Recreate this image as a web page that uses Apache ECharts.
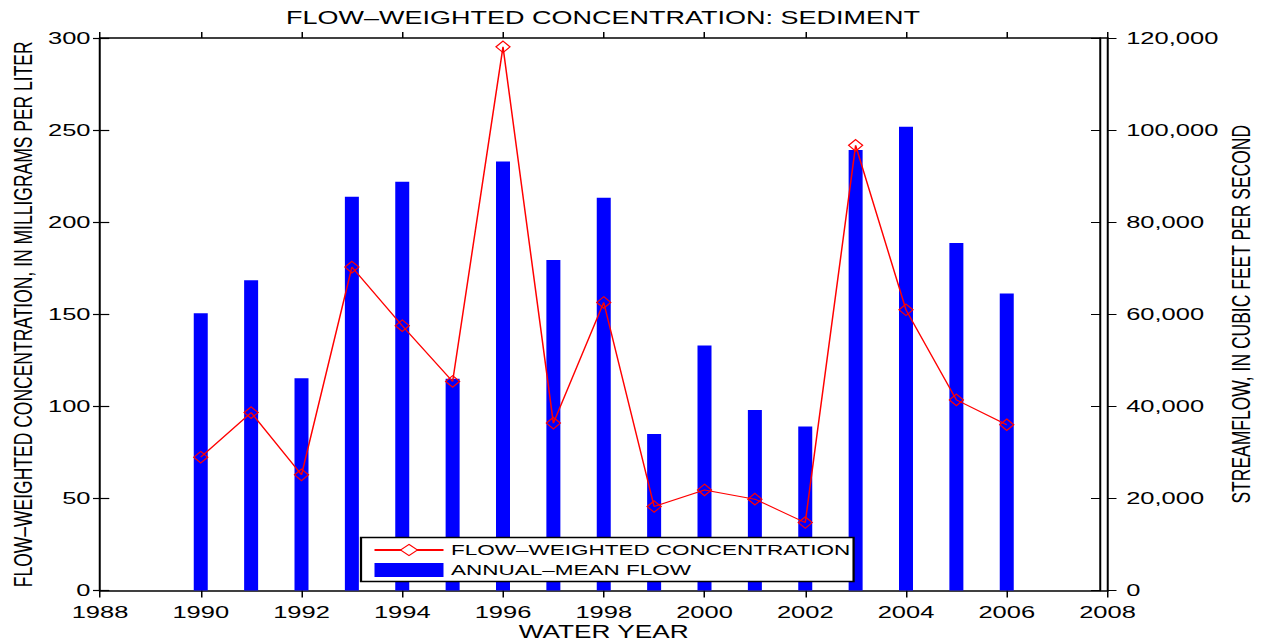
<!DOCTYPE html>
<html><head><meta charset="utf-8">
<script src="https://cdn.jsdelivr.net/npm/echarts@6/dist/echarts.min.js"></script>
<style>
html,body{margin:0;padding:0;background:#fff;overflow:hidden}
#wrap{width:1265px;height:643px;overflow:hidden;background:#fff}
#chart{width:843.3333px;height:643px;transform:scaleX(1.5);transform-origin:0 0}
</style></head>
<body><div id="wrap"><div id="chart"></div></div>
<script>
// ---- data ----
const titleText = 'FLOW\u2013WEIGHTED CONCENTRATION: SEDIMENT';
const lineName = 'FLOW\u2013WEIGHTED CONCENTRATION';
const barName = 'ANNUAL\u2013MEAN FLOW';
const xName = 'WATER YEAR';
const leftName = 'FLOW\u2013WEIGHTED CONCENTRATION, IN MILLIGRAMS PER LITER';
const rightName = 'STREAMFLOW, IN CUBIC FEET PER SECOND';
const years = [1990,1991,1992,1993,1994,1995,1996,1997,1998,1999,2000,2001,2002,2003,2004,2005,2006];
const flow  = [60200,67400,46100,85500,88800,46000,93200,71800,85300,34000,53200,39200,35600,95700,100700,75500,64500];
const conc  = [72.4,96.6,62.8,175.6,143.8,113.5,295.2,90.9,156.4,45.6,54.6,49.6,36.9,241.7,152.4,103.5,90.0];
const xRange = [1988, 2008, 2];
const leftRange = [0, 300, 50];
const rightRange = [0, 120000, 20000];

// ---- layout (horizontal stretch of the whole picture) ----
const K = 1.5;
const sx = v => v / K;
const FONT = 'Liberation Sans, Arial, Helvetica, sans-serif';
const black = '#000';

const chart = echarts.init(document.getElementById('chart'), null, {renderer: 'svg'});

const yBase = (r) => ({min: r[0], max: r[1], interval: r[2], splitLine: {show: false}, type: 'value'});
const xBase = () => ({type: 'value', min: xRange[0], max: xRange[1], interval: xRange[2], splitLine: {show: false}});

const option = {
  animation: false,
  backgroundColor: '#fff',
  title: {
    text: titleText, left: sx(603), top: 9, textAlign: 'center', padding: 0,
    textStyle: {fontFamily: FONT, fontSize: 18, fontWeight: 'normal', color: black}
  },
  grid: {left: sx(100), right: sx(1265 - 1108), top: 38, bottom: 643 - 590.5, containLabel: false, outerBoundsMode: 'none'},
  legend: {
    orient: 'vertical', left: sx(361), top: 537.5,
    padding: [5, 2, 4, 8], itemGap: 5,
    itemWidth: sx(69), itemHeight: 14,
    backgroundColor: '#fff', borderColor: black, borderWidth: 1.5,
    textStyle: {fontFamily: FONT, fontSize: 15, color: black},
    data: [
      {name: lineName, itemStyle: {color: '#fff', borderColor: '#ff0000', borderWidth: 1}},
      {name: barName, icon: 'rect'}
    ]
  },
  xAxis: [
    Object.assign(xBase(), {
      position: 'bottom',
      axisLine: {show: true, onZero: false, lineStyle: {color: black, width: 1.7}},
      axisTick: {show: true, inside: false, length: 7, lineStyle: {color: black, width: 1}},
      axisLabel: {show: true, margin: 13, color: black, fontFamily: FONT, fontSize: 17,
                  formatter: v => String(v), showMinLabel: true, showMaxLabel: true},
      name: xName, nameLocation: 'middle', nameGap: 33, nameMoveOverlap: false,
      nameTextStyle: {fontFamily: FONT, fontSize: 17.5, color: black}
    }),
    Object.assign(xBase(), {
      position: 'top',
      axisLine: {show: true, onZero: false, lineStyle: {color: black, width: 1.5}},
      axisTick: {show: true, inside: false, length: 6, lineStyle: {color: black, width: 1}},
      axisLabel: {show: false}
    })
  ],
  yAxis: [
    Object.assign(yBase(leftRange), {
      position: 'left',
      axisLine: {show: true, onZero: false, lineStyle: {color: black, width: 1.33}},
      axisTick: {show: true, inside: false, length: sx(7), lineStyle: {color: black, width: 1.2}},
      axisLabel: {show: true, margin: sx(9.5), color: black, fontFamily: FONT, fontSize: 17},
      name: leftName, nameLocation: 'middle', nameGap: 42, nameRotate: 90, nameMoveOverlap: false,
      nameTextStyle: {fontFamily: FONT, fontSize: 17.5, color: black}
    }),
    Object.assign(yBase(rightRange), {
      position: 'right',
      axisLine: {show: true, onZero: false, lineStyle: {color: black, width: 1.33}},
      axisTick: {show: true, inside: false, length: sx(9), lineStyle: {color: black, width: 1.2}},
      axisLabel: {show: true, margin: sx(18.7), color: black, fontFamily: FONT, fontSize: 17},
      name: rightName, nameLocation: 'middle', nameGap: 80, nameRotate: 90, nameMoveOverlap: false,
      nameTextStyle: {fontFamily: FONT, fontSize: 17.5, color: black}
    }),
    Object.assign(yBase(leftRange), {
      position: 'left',
      axisLine: {show: false},
      axisTick: {show: true, inside: true, length: sx(9.3), lineStyle: {color: black, width: 1.2}},
      axisLabel: {show: false}
    }),
    Object.assign(yBase(rightRange), {
      position: 'right', offset: sx(-7.5),
      axisLine: {show: true, onZero: false, lineStyle: {color: black, width: 1.33}},
      axisTick: {show: true, inside: true, length: sx(9), lineStyle: {color: black, width: 1.2}},
      axisLabel: {show: false}
    })
  ],
  series: [
    {
      name: barName, type: 'bar', xAxisIndex: 0, yAxisIndex: 1,
      barWidth: sx(14),
      itemStyle: {color: '#0000ff'},
      emphasis: {disabled: true},
      data: years.map((y, i) => [y, flow[i]])
    },
    {
      name: lineName, type: 'line', xAxisIndex: 0, yAxisIndex: 0,
      symbol: 'diamond', symbolSize: [sx(14), 11.5], showAllSymbol: true,
      lineStyle: {color: '#ff0000', width: 1},
      itemStyle: {color: 'rgba(0,0,0,0)', borderColor: '#ff0000', borderWidth: 1},
      emphasis: {disabled: true},
      data: years.map((y, i) => [y, conc[i]])
    }
  ]
};
chart.setOption(option);
</script>
</body></html>
